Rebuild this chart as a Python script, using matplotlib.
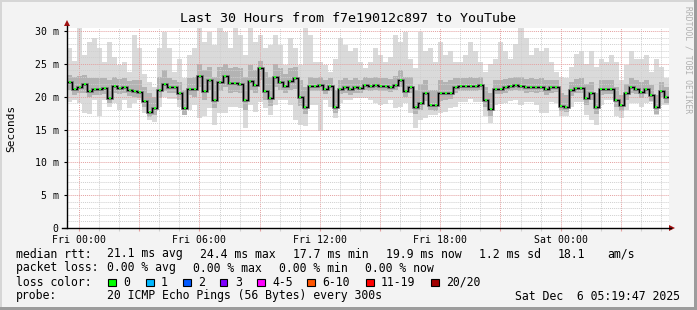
import matplotlib
matplotlib.use('Agg')
import matplotlib.pyplot as plt
import numpy as np
from matplotlib.lines import Line2D
from matplotlib.patches import Polygon, Rectangle

# ---------------- data (ms), 15-minute steps over 30 hours ----------------
start_hour = -0.6          # hours relative to Fri 00:00
step_hours = 0.25

median = [22.3, 21.2, 21.5, 22.0, 20.9, 21.1, 21.2, 21.3, 19.8, 21.6,
          21.3, 21.4, 21.0, 20.9, 20.7, 19.4, 17.7, 18.3, 21.0, 22.0,
          21.4, 21.4, 20.5, 18.2, 21.2, 21.2, 23.2, 20.8, 22.5, 19.5,
          22.3, 23.2, 22.1, 22.1, 22.0, 19.5, 22.4, 21.8, 24.4, 20.8,
          19.8, 23.0, 22.3, 21.7, 22.4, 22.8, 19.9, 18.5, 21.7, 21.6,
          21.8, 21.2, 21.6, 18.4, 21.2, 21.4, 21.1, 21.4, 21.3, 21.8,
          21.6, 21.8, 21.7, 21.7, 21.5, 21.8, 22.6, 20.9, 21.5, 18.5,
          19.0, 20.5, 18.8, 18.7, 20.5, 20.5, 20.5, 21.4, 21.7, 21.7,
          21.7, 21.7, 21.8, 19.5, 18.1, 21.2, 21.2, 21.4, 21.6, 21.8,
          21.7, 21.4, 21.5, 21.4, 21.5, 21.1, 21.4, 21.5, 18.6, 18.5,
          21.0, 21.3, 21.3, 19.8, 20.5, 18.4, 21.1, 21.2, 21.2, 19.5,
          18.7, 20.5, 21.4, 21.2, 20.7, 21.2, 20.3, 18.4, 20.9, 19.9]

smoke_max = [27.4, 25.5, 30.4, 26.3, 28.4, 28.9, 27.4, 25.3, 28.4, 26.0,
             24.8, 25.3, 23.8, 29.4, 27.4, 23.5, 22.3, 21.5, 27.4, 29.9,
             27.4, 23.8, 25.8, 22.8, 26.3, 27.4, 30.4, 28.4, 29.9, 27.9,
             30.4, 29.9, 27.4, 30.4, 29.4, 26.3, 30.4, 28.4, 29.4, 27.4,
             27.9, 29.4, 27.9, 24.8, 28.9, 27.4, 24.8, 30.4, 29.4, 25.3,
             25.3, 24.8, 23.8, 25.8, 28.9, 27.9, 26.9, 27.4, 25.3, 24.3,
             25.3, 27.4, 26.3, 25.3, 26.0, 29.4, 28.4, 29.9, 25.8, 24.3,
             29.9, 26.9, 27.4, 25.3, 28.4, 26.3, 26.9, 25.3, 25.3, 26.3,
             28.4, 26.9, 25.3, 23.8, 25.0, 25.8, 28.4, 26.9, 25.8, 28.0,
             30.4, 28.9, 26.3, 27.4, 26.9, 27.4, 25.3, 23.8, 23.0, 22.8,
             24.5, 26.5, 27.0, 25.0, 27.0, 24.5, 25.8, 25.3, 26.3, 25.3,
             22.5, 24.8, 26.9, 25.8, 25.8, 26.3, 23.8, 25.8, 24.5, 22.8]

smoke_min = [19.2, 19.5, 19.0, 17.5, 17.4, 19.5, 17.0, 19.5, 18.5, 19.0,
             18.0, 19.5, 18.2, 19.0, 19.5, 17.5, 16.4, 16.2, 18.5, 20.0,
             19.7, 19.7, 18.5, 17.2, 18.0, 18.7, 16.7, 17.0, 18.2, 15.7,
             17.5, 17.5, 18.5, 18.5, 18.2, 15.2, 18.7, 17.7, 19.2, 18.2,
             17.2, 18.7, 19.5, 19.5, 18.7, 16.5, 15.7, 15.5, 18.7, 18.7,
             14.8, 19.5, 18.5, 16.7, 19.0, 19.5, 19.5, 19.8, 19.8, 19.8,
             19.5, 19.0, 18.7, 18.9, 19.5, 18.2, 18.5, 19.0, 17.5, 15.2,
             16.5, 16.7, 17.2, 17.2, 17.5, 17.7, 18.2, 18.5, 19.2, 19.2,
             19.7, 19.2, 19.2, 17.0, 16.0, 18.7, 18.9, 19.0, 19.3, 19.5,
             18.7, 19.2, 19.2, 18.7, 17.5, 17.5, 19.2, 19.0, 17.0, 17.0,
             18.5, 19.2, 19.2, 17.2, 16.5, 15.7, 18.7, 19.5, 19.5, 17.0,
             16.7, 18.0, 19.0, 19.0, 18.5, 19.0, 19.2, 17.2, 18.7, 18.7]

smoke_hi = [23.3, 23.0, 23.2, 23.3, 22.8, 22.8, 22.9, 22.8, 22.5, 23.0,
            22.7, 22.8, 22.4, 22.6, 22.5, 21.5, 20.5, 20.0, 23.0, 24.0,
            22.8, 22.6, 22.3, 21.0, 22.8, 23.0, 25.0, 24.0, 24.5, 23.0,
            24.5, 25.0, 24.3, 24.5, 24.3, 23.0, 24.8, 24.0, 25.5, 23.8,
            23.0, 25.0, 24.3, 23.5, 24.3, 24.5, 22.5, 21.5, 23.0, 22.8,
            23.0, 22.5, 22.8, 21.0, 22.6, 22.8, 22.5, 22.8, 22.6, 23.0,
            22.8, 23.0, 22.9, 22.9, 22.7, 23.2, 24.0, 23.0, 23.0, 21.0,
            22.0, 22.5, 21.0, 21.0, 22.5, 22.3, 22.5, 22.8, 22.9, 22.9,
            23.0, 22.9, 23.0, 21.5, 20.5, 22.5, 22.6, 22.7, 22.8, 23.0,
            23.0, 22.7, 22.8, 22.7, 22.8, 22.5, 22.6, 22.6, 20.5, 20.2,
            22.3, 22.7, 22.8, 22.0, 22.3, 20.5, 22.5, 22.6, 22.6, 21.5,
            20.3, 22.0, 22.8, 22.6, 22.2, 22.6, 21.8, 20.3, 22.3, 21.5]

smoke_lo = [21.0, 20.3, 20.5, 20.6, 20.0, 20.2, 20.3, 20.4, 19.0, 20.6,
            20.4, 20.5, 20.1, 20.0, 19.8, 18.4, 16.9, 17.2, 19.8, 20.8,
            20.5, 20.5, 19.5, 17.2, 20.2, 20.0, 21.5, 19.5, 21.0, 18.2,
            20.8, 21.5, 20.6, 20.7, 20.6, 18.0, 21.0, 20.5, 22.5, 19.5,
            18.6, 21.5, 21.0, 20.6, 21.0, 21.2, 18.6, 17.3, 20.9, 20.8,
            20.9, 20.4, 20.8, 17.5, 20.4, 20.6, 20.3, 20.6, 20.6, 21.0,
            20.8, 21.0, 20.9, 20.9, 20.7, 21.0, 21.5, 20.0, 20.6, 17.3,
            17.9, 19.3, 17.9, 17.8, 19.4, 19.5, 19.6, 20.5, 20.9, 20.9,
            20.9, 20.9, 21.0, 18.4, 17.0, 20.4, 20.4, 20.6, 20.8, 21.0,
            20.9, 20.6, 20.7, 20.6, 20.7, 20.3, 20.6, 20.7, 17.8, 17.7,
            20.1, 20.5, 20.5, 18.8, 19.5, 17.4, 20.2, 20.4, 20.4, 18.5,
            17.8, 19.5, 20.6, 20.4, 19.8, 20.4, 19.4, 17.4, 20.0, 19.1]

x_tick_hours = [0, 6, 12, 18, 24]
x_tick_labels = ['Fri 00:00', 'Fri 06:00', 'Fri 12:00', 'Fri 18:00', 'Sat 00:00']
y_tick_values = [0, 5, 10, 15, 20, 25, 30]
y_tick_labels = ['0', '5 m', '10 m', '15 m', '20 m', '25 m', '30 m']

loss_labels = ['0', '1', '2', '3', '4-5', '6-10', '11-19', '20/20']
loss_colors = ['#00ff00', '#00b8ff', '#0059ff', '#7e00ff', '#ff00ff',
               '#ff5500', '#ff0000', '#a10000']

title = 'Last 30 Hours from f7e19012c897 to YouTube'

# ---------------- figure ----------------
W, H = 697, 310
BG = '#f3f3f3'
MONO = 'DejaVu Sans Mono'
plt.rcParams['font.family'] = [MONO]

fig = plt.figure(figsize=(W / 100, H / 100), dpi=100, facecolor=BG)


def fx(px):
    return px / W


def fy(py):
    return 1 - py / H


ax = fig.add_axes([fx(67), fy(228), 602 / W, 200 / H])
ax.set_facecolor('white')

n = len(median)
edges = start_hour + step_hours * np.arange(n + 1)
centers = (edges[:-1] + edges[1:]) / 2

ax.stairs(smoke_max, edges, baseline=smoke_min, fill=True,
          color='#dadada', lw=0, zorder=1)
ax.stairs(smoke_hi, edges, baseline=smoke_lo, fill=True,
          color='#b3b3b3', lw=0, zorder=1.1)

med_ext = list(median) + [median[-1]]
ax.step(edges, med_ext, where='post', color='#6e6e6e', lw=1.9, zorder=3,
        solid_joinstyle='miter')
ax.step(edges, med_ext, where='post', color='black', lw=0.8, zorder=3.2)
ax.plot(centers, median, ls='none', marker='s', ms=2.0, mew=0,
        color='#22ff22', zorder=3.5)

ax.set_xlim(-0.6, 29.4)
ax.set_ylim(0, 30.46)

# grid
ax.set_xticks(np.arange(0, 30, 3))
ax.set_xticklabels(['' if h not in x_tick_hours else
                    x_tick_labels[x_tick_hours.index(h)] for h in np.arange(0, 30, 3)])
ax.set_xticks(np.arange(0, 30, 1), minor=True)
ax.set_yticks(y_tick_values)
ax.set_yticklabels(y_tick_labels)
ax.set_yticks(np.arange(0, 31, 1), minor=True)

ax.set_axisbelow(False)
ax.grid(which='minor', color='#cfcfcf', ls=(0, (1, 1)), lw=0.7)
ax.grid(which='major', color='#e4a0a0', ls=(0, (1, 1)), lw=0.7)

for s in ax.spines.values():
    s.set_visible(False)

ax.tick_params(axis='x', which='major', length=2.5, color='#e4a0a0',
               labelsize=7.1, pad=2.5, width=0.8)
ax.tick_params(axis='x', which='minor', length=2.0, color='#d0d0d0', width=0.8)
ax.tick_params(axis='y', which='major', length=2.5, color='black',
               labelsize=7.1, pad=3.5, width=0.8)
ax.tick_params(axis='y', which='minor', length=0)

# axis lines + arrows (in figure pixel coords)
fig.add_artist(Line2D([fx(67), fx(67)], [fy(228), fy(26)], color='black', lw=1))
fig.add_artist(Line2D([fx(62), fx(671)], [fy(228), fy(228)], color='black', lw=1))
fig.add_artist(Polygon([[fx(64), fy(26)], [fx(70), fy(26)], [fx(67), fy(20)]],
                       closed=True, color='#a01010', lw=0))
fig.add_artist(Polygon([[fx(669), fy(225)], [fx(669), fy(231)], [fx(675), fy(228)]],
                       closed=True, color='#a01010', lw=0))

# title / labels
fig.text(fx(348), fy(19), title, ha='center', va='center', fontsize=9.6,
         color='black')
fig.text(fx(11), fy(128), 'Seconds', rotation=90, ha='center', va='center',
         fontsize=8.0)
fig.text(fx(688), fy(6), 'RRDTOOL / TOBI OETIKER', rotation=270, ha='center',
         va='top', fontsize=5.8, color='#b0b0b0')

# legend lines
LFS = 8.3
rows = [254, 268, 282, 296]
fig.text(fx(16), fy(rows[0]), 'median rtt:', va='center', fontsize=LFS)
for xp, s in [(107, '21.1 ms avg'), (200, '24.4 ms max'), (293, '17.7 ms min'),
              (386, '19.9 ms now'), (479, '1.2 ms sd'), (558, '18.1'),
              (607, 'am/s')]:
    fig.text(fx(xp), fy(rows[0]), s, va='center', fontsize=LFS)

fig.text(fx(16), fy(rows[1]), 'packet loss:', va='center', fontsize=LFS)
for xp, s in [(107, '0.00 % avg'), (193, '0.00 % max'), (279, '0.00 % min'),
              (365, '0.00 % now')]:
    fig.text(fx(xp), fy(rows[1]), s, va='center', fontsize=LFS)

fig.text(fx(16), fy(rows[2]), 'loss color:', va='center', fontsize=LFS)
box_x = [108, 146, 183, 220, 257, 307, 366, 431]
for bx, lab, col in zip(box_x, loss_labels, loss_colors):
    fig.add_artist(Rectangle((fx(bx), fy(rows[2] + 4)), 7.5 / W, 7.5 / H,
                             facecolor=col, edgecolor='black', lw=0.8))
    fig.text(fx(bx + 15), fy(rows[2]), lab, va='center', fontsize=LFS)

fig.text(fx(16), fy(rows[3]), 'probe:', va='center', fontsize=LFS)
fig.text(fx(107), fy(rows[3]), '20 ICMP Echo Pings (56 Bytes) every 300s',
         va='center', fontsize=LFS)
fig.text(fx(680), fy(rows[3]), 'Sat Dec  6 05:19:47 2025', ha='right',
         va='center', fontsize=LFS)

# outer frame
fig.add_artist(Rectangle((0, fy(2)), 1, 2 / H, color='#d6d6d6', lw=0))
fig.add_artist(Rectangle((0, 0), 2 / W, 1, color='#d6d6d6', lw=0))
fig.add_artist(Rectangle((0, 0), 1, 3 / H, color='#9c9c9c', lw=0))
fig.add_artist(Rectangle((1 - 3 / W, 0), 3 / W, 1, color='#9c9c9c', lw=0))

fig.savefig('out.png', dpi=100, facecolor=BG)
